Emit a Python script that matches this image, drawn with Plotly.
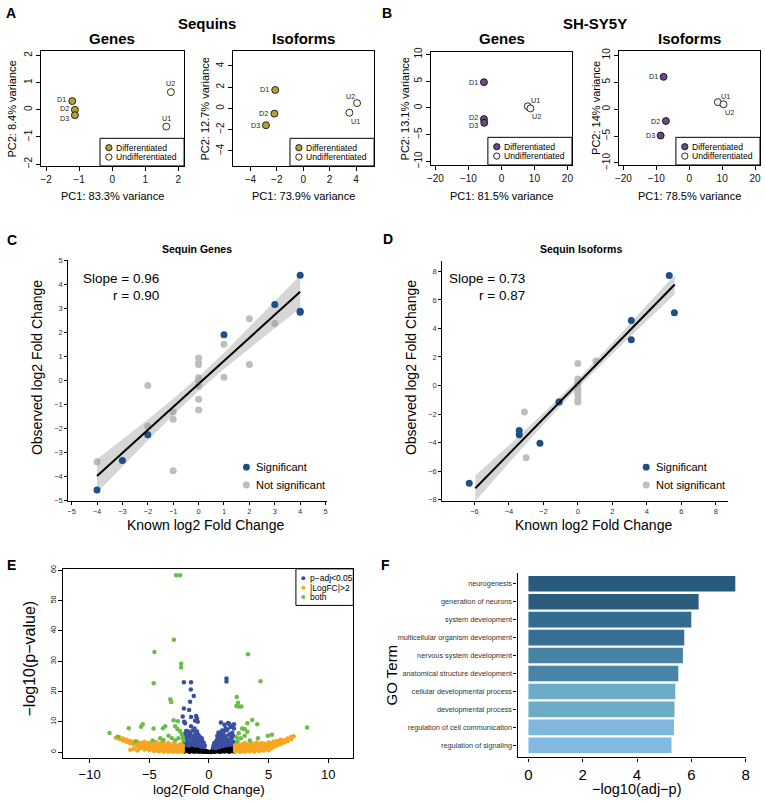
import plotly.graph_objects as go

# ======================= DATA =======================
# --- A/B: PCA ---
pca_labels = ["D1", "D2", "D3", "U1", "U2"]
pca_groups = ["Differentiated", "Differentiated", "Differentiated", "Undifferentiated", "Undifferentiated"]
legend_groups = ["Differentiated", "Undifferentiated"]

seq_genes_pc1 = [-1.21, -1.13, -1.13, 1.64, 1.78]
seq_genes_pc2 = [0.32, 0.00, -0.20, -0.62, 0.65]
seq_iso_pc1 = [-2.12, -2.18, -2.82, 3.50, 4.08]
seq_iso_pc2 = [1.74, -0.49, -1.58, -0.40, 0.50]
sh_genes_pc1 = [-5.3, -5.3, -5.2, 8.0, 8.8]
sh_genes_pc2 = [4.8, -2.1, -2.8, 0.3, -0.1]
sh_iso_pc1 = [-7.8, -7.1, -8.7, 8.7, 10.4]
sh_iso_pc2 = [6.0, -2.2, -4.9, 1.3, 0.9]

ticks_seq_genes_x = [-2, -1, 0, 1, 2]
ticks_seq_genes_y = [-2, -1, 0, 1, 2]
ticks_seq_iso_x = [-4, -2, 0, 2, 4]
ticks_seq_iso_y = [-4, -2, 0, 2, 4]
ticks_sh_x = [-20, -10, 0, 10, 20]
ticks_sh_y = [-10, -5, 0, 5, 10]

pc_titles_seq_genes = ["PC1: 83.3% variance", "PC2: 8.4% variance"]
pc_titles_seq_iso = ["PC1: 73.9% variance", "PC2: 12.7% variance"]
pc_titles_sh_genes = ["PC1: 81.5% variance", "PC2: 13.1% variance"]
pc_titles_sh_iso = ["PC1: 78.5% variance", "PC2: 14% variance"]

# --- C: Sequin genes ---
genes_known_sig = [4, 4, 4, 3, 1, -2, -3, -4]
genes_obs_sig = [4.40, 2.85, 2.90, 3.18, 1.92, -2.25, -3.32, -4.55]
genes_known_ns = [3, 2, 2, 1, 1, 0, 0, 0, 0, 0, 0, 0, 0, -1, -1, -1, -2, -2, -4]
genes_obs_ns = [2.38, 2.58, 0.68, 1.52, 0.15, 0.95, 0.75, 0.68, 0.12, 0.02, -0.22, -0.77, -1.22,
                -1.30, -1.60, -3.75, -0.20, -1.90, -3.38]
genes_fit_x = [-4, 4]
genes_fit_y = [-3.97, 3.71]
genes_band_x = [-4, -3, -2, -1, 0, 1, 2, 3, 4]
genes_band_lo = [-4.67, -3.57, -2.49, -1.43, -0.43, 0.49, 1.35, 2.19, 3.01]
genes_band_hi = [-3.27, -2.45, -1.61, -0.75, 0.17, 1.17, 2.23, 3.31, 4.41]
genes_slope, genes_r = 0.96, 0.90
ticks_c_x = [-5, -4, -3, -2, -1, 0, 1, 2, 3, 4, 5]
ticks_c_y = [-5, -4, -3, -2, -1, 0, 1, 2, 3, 4, 5]

# --- D: Sequin isoforms ---
iso_known_sig = [5.3, 5.6, 3.1, 3.1, -1.1, -2.2, -3.4, -3.4, -6.3]
iso_obs_sig = [7.7, 5.1, 4.55, 3.2, -1.15, -4.05, -3.15, -3.45, -6.85]
iso_known_ns = [1.05, 0, 0, 0, 0, 0, 0, 0, 0, 0, -3.1, -3.0, -1.05]
iso_obs_ns = [1.72, 1.55, 0.45, 0.30, 0.10, -0.25, -0.45, -0.65, -1.0, -1.15, -1.85, -5.05, -1.12]
iso_fit_x = [-5.95, 5.62]
iso_fit_y = [-7.20, 7.08]
iso_band_x = [-5.95, -4, -2, 0, 2, 4, 5.62]
iso_band_lo = [-8.10, -5.42, -2.73, -0.16, 2.23, 4.53, 6.40]
iso_band_hi = [-6.30, -4.18, -1.93, 0.44, 2.99, 5.63, 7.76]
iso_slope, iso_r = 0.73, 0.87
ticks_d_x = [-6, -4, -2, 0, 2, 4, 6, 8]
ticks_d_y = [-8, -6, -4, -2, 0, 2, 4, 6, 8]

# --- E: volcano ---
black_cols = [-2.05, -1.85, -1.65, -1.45, -1.25, -1.05, -0.85, -0.65, -0.45, -0.25, -0.05,
              0.10, 0.30, 0.50, 0.70, 0.90, 1.10, 1.30, 1.50, 1.70, 1.90, 2.10,
              -1.95, -1.75, -1.55, -1.35, -1.15, -0.95, -0.75, -0.55, -0.35, -0.15,
              0.20, 0.40, 0.60, 0.80, 1.00, 1.20, 1.40, 1.60, 1.80, 2.00]
black_rows = [[0.2, 0.9, 1.6, 2.2], [0.5, 1.2, 1.9], [0.1, 0.8, 1.5, 2.1], [0.4, 1.1, 1.7],
              [0.1, 0.7, 1.3], [0.3, 0.9, 1.4], [0.1, 0.6, 1.1], [0.3, 0.8], [0.1, 0.5], [0.2, 0.4], [0.1],
              [0.05], [0.2, 0.5], [0.1, 0.6], [0.3, 0.9], [0.1, 0.6, 1.2], [0.4, 1.0, 1.5], [0.2, 0.8, 1.4],
              [0.5, 1.1, 1.8], [0.1, 0.8, 1.5, 2.1], [0.4, 1.1, 1.8], [0.2, 0.9, 1.6, 2.3],
              [0.6, 1.9], [1.0, 1.7], [0.3, 1.2], [0.9], [0.5, 1.0], [1.1], [0.4, 0.9], [0.2, 0.6], [0.3], [0.1],
              [0.1], [0.3], [0.4, 0.8], [0.7], [0.2, 1.3], [0.6, 1.6], [1.1], [0.3, 1.9], [1.2, 2.1], [0.7, 2.0]]

blue_x = [-2.05, -1.95, -1.9, -1.85, -1.8, -1.75, -1.7, -1.65, -1.6, -1.55, -1.5, -1.45, -1.4, -1.35,
          -1.3, -1.25, -1.2, -1.15, -1.1, -1.05, -1.0, -0.95, -0.9, -0.85, -0.8, -0.75, -0.7, -0.65,
          -0.6, -0.55, -0.5, -0.45, -0.4, -0.35, -2.0, -1.9, -2.1, -2.08, -1.72, -1.2, -1.0, -1.5,
          -2.0, -0.8, -0.6, -1.95, -1.6, -1.3, -1.0, -0.7,
          0.35, 0.4, 0.45, 0.5, 0.55, 0.6, 0.65, 0.7, 0.75, 0.8, 0.85, 0.9, 0.95, 1.0, 1.05, 1.1,
          1.15, 1.2, 1.25, 1.3, 1.35, 1.4, 1.45, 1.5, 1.55, 1.6, 1.65, 1.7, 1.75, 1.8, 1.85, 1.9,
          1.95, 2.0, 2.05, 2.1, 2.1, 1.8, 1.5, 1.2, 0.9, 0.6, 1.7, 2.0, 1.4, 1.1, 0.8, 1.9, 1.3, 0.7,
          -2.1, -1.5, -1.52, -1.27, -1.58, -2.1, -1.66, -2.2, -2.08, -1.5, -1.08, -1.0, -0.94, -1.16,
          1.47, 1.47, 1.0, 1.6, 2.1]
blue_y = [2.2, 3.1, 4.4, 2.6, 5.3, 3.6, 2.1, 4.8, 6.4, 3.0, 5.6, 2.4, 4.1, 7.1,
          3.4, 5.0, 2.2, 6.0, 3.9, 2.6, 4.6, 3.1, 5.7, 2.3, 3.6, 4.3, 2.0, 2.9,
          3.8, 1.8, 2.5, 3.2, 1.6, 2.2, 6.1, 7.0, 5.0, 3.4, 6.8, 7.8, 6.8, 8.5,
          9.5, 5.2, 4.6, 2.9, 2.8, 2.7, 2.2, 1.9,
          1.5, 2.3, 3.0, 1.8, 2.7, 3.6, 2.1, 4.3, 2.9, 5.1, 3.5, 2.2, 4.0, 6.0, 3.1, 4.8,
          2.5, 5.6, 3.7, 6.8, 2.8, 4.4, 5.2, 3.3, 7.4, 2.4, 4.0, 5.9, 3.0, 8.3, 4.7, 2.6,
          6.4, 3.6, 5.3, 2.8, 7.8, 2.5, 2.3, 2.0, 1.7, 1.3, 9.3, 8.8, 7.9, 7.1, 6.5, 4.9, 9.0, 5.4,
          23.0, 23.0, 20.6, 18.5, 16.6, 14.4, 13.9, 11.7, 10.0, 11.6, 11.9, 11.1, 10.0, 10.3,
          24.3, 23.3, 9.8, 9.6, 9.2]

orange_cols = [-2.2, -2.4, -2.6, -2.8, -3.0, -3.2, -3.4, -3.6, -3.8, -4.0, -4.2, -4.4, -4.6, -4.8,
               -5.0, -5.2, -5.4, -5.6, -5.8, -6.0, -6.3, -6.6, -6.9, -7.2, -7.5, -7.8,
               2.2, 2.4, 2.6, 2.8, 3.0, 3.2, 3.4, 3.6, 3.8, 4.0, 4.2, 4.4, 4.6, 4.8,
               5.0, 5.2, 5.4, 5.7, 6.0, 6.3, 6.6, 6.9, 7.1]
orange_rows = [[0.1, 0.8, 1.5, 2.2], [0.4, 1.1, 1.9, 2.6], [0.1, 0.7, 1.4, 2.0], [0.3, 1.0, 1.7, 2.4],
               [0.1, 0.6, 1.3, 2.0, 2.7], [0.4, 1.0, 1.6, 2.2], [0.2, 0.8, 1.5, 2.3, 3.0], [0.5, 1.1, 1.8, 2.5],
               [0.2, 0.9, 1.6, 2.8], [0.6, 1.3, 2.0, 3.1], [0.3, 1.0, 1.7, 2.4], [0.8, 1.5, 2.2, 3.3],
               [0.4, 1.2, 1.9, 2.7], [1.0, 1.7, 2.5], [0.6, 1.4, 2.2, 3.0], [1.2, 1.9, 2.8],
               [0.9, 1.7, 2.5, 3.3], [1.5, 2.3, 3.1], [1.2, 2.1, 2.9], [0.5, 1.9, 2.7, 3.5],
               [1.1, 2.5, 3.3], [0.8, 2.9, 3.7], [3.4, 4.1], [3.8, 4.5], [4.3, 4.9], [4.7],
               [0.2, 0.9, 1.6, 2.3], [0.5, 1.2, 1.9, 2.7], [0.1, 0.8, 1.5, 2.2], [0.4, 1.1, 1.8, 2.6],
               [0.2, 0.9, 1.6, 2.3, 3.0], [0.5, 1.2, 1.9, 2.6], [0.3, 1.0, 1.7, 2.4], [0.6, 1.3, 2.0, 2.9],
               [0.2, 1.0, 1.7, 2.5], [0.7, 1.4, 2.2, 3.2], [0.4, 1.1, 1.9, 2.6], [0.9, 1.6, 2.4, 3.0],
               [0.5, 1.3, 2.1, 2.8], [1.0, 1.8, 2.6], [0.6, 1.5, 2.3, 3.2], [1.2, 2.0, 2.8],
               [1.7, 2.6, 3.4], [2.2, 3.0, 3.7], [2.6, 3.4, 4.1], [3.2, 3.9], [3.7, 4.5], [4.3, 5.0], [5.2]]

green_x = [-2.75, -2.42, -2.94, -4.57, -2.33, -2.33, -4.63, -3.24, -3.16, -2.96, -2.6, -5.55,
           -8.33, -7.64, -6.72, -5.69, -6.17, -4.64, -3.86, -3.67, -2.83, -2.64, -2.42, -2.28, -3.39,
           -4.08, -3.11, -2.56, -4.72, -3.81, -2.83, -2.19, -2.14,
           3.27, 4.32, 2.33, 2.44, 2.30, 2.49, 2.72, 3.63, 3.22, 4.05, 8.22, 2.78, 3.0, 3.22, 2.5,
           4.94, 5.28, 4.11, 2.67, 3.42, 2.31, 2.39, 3.0]
green_y = [58.3, 58.3, 37.0, 33.0, 29.1, 27.9, 22.7, 17.4, 16.5, 10.5, 10.2, 9.2,
           6.3, 5.1, 7.9, 8.4, 3.5, 7.8, 7.9, 8.5, 8.5, 7.6, 7.0, 6.0, 5.4,
           4.6, 4.6, 4.6, 3.8, 4.0, 3.8, 4.9, 3.8,
           32.3, 23.4, 18.2, 16.3, 15.2, 15.0, 15.0, 10.6, 9.5, 9.2, 8.1, 7.8, 7.6, 6.7, 6.2,
           5.4, 5.7, 4.6, 4.6, 3.8, 4.9, 3.6, 5.4]
volcano_legend = ["p\u2212adj&lt;0.05", "|LogFC|&gt;2", "both"]
ticks_e_x = [-10, -5, 0, 5, 10]
ticks_e_y = [0, 10, 20, 30, 40, 50, 60]

# --- F: GO terms (bottom to top) ---
go_terms = ["regulation of signaling", "regulation of cell communication", "developmental process",
            "cellular developmental process", "anatomical structure development",
            "nervous system development", "multicellular organism development",
            "system development", "generation of neurons", "neurogenesis"]
go_values = [5.27, 5.36, 5.38, 5.41, 5.52, 5.69, 5.74, 6.00, 6.27, 7.62]
ticks_f_x = [0, 2, 4, 6, 8]

# ======================= STYLE / LAYOUT =======================
W, H = 765, 802
FONT = "Liberation Sans, Arial, Helvetica, sans-serif"
PCA_COL_A = {"Differentiated": "#B59F3B", "Undifferentiated": "#FEFCE0"}
PCA_COL_B = {"Differentiated": "#6B4D7F", "Undifferentiated": "#F3F0F6"}
SIG_BLUE = "#1D4F8B"
NS_GRAY = "#BEBEBE"
V_BLUE, V_ORANGE, V_GREEN = "#3A4FA0", "#F6A623", "#6BBD45"
GO_COLORS = ["#82B9E0", "#7FB7DD", "#6BADC7", "#6BADC7", "#4784A5", "#4683A4",
             "#356F94", "#336C91", "#2A5C80", "#285A7E"]

fig = go.Figure()
layout = dict(width=W, height=H, autosize=False, margin=dict(l=0, r=0, t=0, b=0),
              paper_bgcolor="white", plot_bgcolor="rgba(0,0,0,0)", showlegend=False,
              font=dict(family=FONT, color="black"))
annotations, shapes = [], []


def fx(px):
    return px / W


def fy(py):
    return 1 - py / H


def names(n):
    s = "" if n == 1 else str(n)
    return "xaxis" + s, "yaxis" + s, "x" + s, "y" + s


def ann(text, px, py, size, bold=False, xa="center", ya="middle", angle=0, color="black"):
    annotations.append(dict(text=("<b>%s</b>" % text) if bold else text, x=fx(px), y=fy(py),
                            xref="paper", yref="paper", xanchor=xa, yanchor=ya, showarrow=False,
                            textangle=angle, font=dict(size=size, color=color, family=FONT)))


def circle(cx, cy, r, fill, line_w=0.0, line_c="black"):
    shapes.append(dict(type="circle", xref="paper", yref="paper", x0=fx(cx - r), x1=fx(cx + r),
                       y0=fy(cy + r), y1=fy(cy - r), fillcolor=fill,
                       line=dict(width=line_w, color=line_c)))


def rect(x0, y0, x1, y1, w=1):
    shapes.append(dict(type="rect", xref="paper", yref="paper", x0=fx(x0), x1=fx(x1),
                       y0=fy(y1), y1=fy(y0), line=dict(width=w, color="black"), fillcolor="rgba(0,0,0,0)"))


# ---------------- PCA panels ----------------
LABEL_POS = {
    "L": dict(xanchor="right", yanchor="middle", xshift=-5, yshift=0),
    "Lu1": dict(xanchor="right", yanchor="middle", xshift=-5, yshift=1.5),
    "Lu": dict(xanchor="right", yanchor="middle", xshift=-5, yshift=2),
    "Ld": dict(xanchor="right", yanchor="middle", xshift=-5, yshift=-3),
    "T": dict(xanchor="center", yanchor="bottom", xshift=0, yshift=3),
    "TL": dict(xanchor="right", yanchor="bottom", xshift=-1, yshift=1),
    "BR": dict(xanchor="left", yanchor="top", xshift=1, yshift=-3),
    "TR": dict(xanchor="left", yanchor="bottom", xshift=2, yshift=0),
}
pca_panels = [
    dict(n=1, x=seq_genes_pc1, y=seq_genes_pc2, box=(37, 182, 47, 163), xr=[-2.17, 2.18], yr=[-2.07, 2.15],
         xt=ticks_seq_genes_x, yt=ticks_seq_genes_y, col=PCA_COL_A, lab=["Lu1", "Lu1", "Ld", "T", "T"],
         titles=pc_titles_seq_genes, ytx=8, name="Genes"),
    dict(n=2, x=seq_iso_pc1, y=seq_iso_pc2, box=(231, 374, 47, 163), xr=[-5.35, 5.37], yr=[-5.42, 5.37],
         xt=ticks_seq_iso_x, yt=ticks_seq_iso_y, col=PCA_COL_A, lab=["L", "L", "L", "BR", "TL"],
         titles=pc_titles_seq_iso, ytx=203, name="Isoforms"),
    dict(n=3, x=sh_genes_pc1, y=sh_genes_pc2, box=(432, 574, 48, 162), xr=[-21.2, 21.4], yr=[-10.68, 10.37],
         xt=ticks_sh_x, yt=ticks_sh_y, col=PCA_COL_B, lab=["L", "Lu", "Ld", "TR", "BR"],
         titles=pc_titles_sh_genes, ytx=405, name="Genes"),
    dict(n=4, x=sh_iso_pc1, y=sh_iso_pc2, box=(621, 764, 47, 162), xr=[-21.5, 21.5], yr=[-10.37, 10.73],
         xt=ticks_sh_x, yt=ticks_sh_y, col=PCA_COL_B, lab=["L", "L", "L", "TR", "BR"],
         titles=pc_titles_sh_iso, ytx=598, name="Isoforms"),
]
for p in pca_panels:
    xa, ya, xr_, yr_ = names(p["n"])
    x0, x1, y0, y1 = p["box"]
    base = dict(showline=True, mirror=True, linecolor="black", linewidth=1, ticks="outside", ticklen=4,
                tickwidth=1, tickcolor="black", tickfont=dict(size=10, family=FONT, color="#111"),
                showgrid=False, zeroline=False, tickmode="array")
    layout[xa] = dict(base, domain=[fx(x0), fx(x1)], range=p["xr"], tickvals=p["xt"], anchor=yr_)
    layout[ya] = dict(base, domain=[fy(y1), fy(y0)], range=p["yr"], tickvals=p["yt"], anchor=xr_,
                      tickangle=-90)
    fig.add_trace(go.Scatter(x=p["x"], y=p["y"], mode="markers", xaxis=xr_, yaxis=yr_,
                             marker=dict(size=7, color=[p["col"][g] for g in pca_groups],
                                         line=dict(width=0.8, color="black"))))
    for lbl, px_, py_, pos in zip(pca_labels, p["x"], p["y"], p["lab"]):
        annotations.append(dict(text=lbl, x=px_, y=py_, xref=xr_, yref=yr_, showarrow=False,
                                borderpad=0, font=dict(size=7.2, color="#1a1a1a", family=FONT),
                                **LABEL_POS[pos]))
    # legend box
    lx0, lx1, ly0, ly1 = x1 - 85, x1, y1 - 28, y1
    rect(lx0, ly0, lx1, ly1)
    for k, g in enumerate(legend_groups):
        cy = ly0 + 9.5 + 9.5 * k
        circle(lx0 + 9, cy, 3.2, p["col"][g], 0.8)
        ann(g, lx0 + 14.5, cy, 8.6, xa="left")
    # titles
    ann(p["name"], (x0 + x1) / 2, 34, 15, bold=True)
    ann(p["titles"][0], (x0 + x1) / 2, 193, 11)
    ann(p["titles"][1], p["ytx"], (y0 + y1) / 2, 11, angle=-90)

ann("Sequins", 205, 19, 15, bold=True)
ann("SH-SY5Y", 597, 19, 15, bold=True)
for letter, px_, py_ in [("A", 7, 8), ("B", 387, 8), ("C", 8, 238), ("D", 388, 237), ("E", 8, 567), ("F", 386, 567)]:
    ann(letter, px_, py_, 14, bold=True)

# ---------------- C & D regression panels ----------------
reg_panels = [
    dict(n=5, dom=(65, 326, 258, 502), xr=[-5.13, 5.04], yr=[-5.0, 5.04], xt=ticks_c_x, yt=ticks_c_y,
         ks=genes_known_sig, os=genes_obs_sig, kn=genes_known_ns, on=genes_obs_ns,
         fx_=genes_fit_x, fy_=genes_fit_y, bx=genes_band_x, blo=genes_band_lo, bhi=genes_band_hi,
         slope=genes_slope, r=genes_r, title="Sequin Genes", tcx=195, stx=159, legx=245),
    dict(n=6, dom=(443, 732, 259, 502), xr=[-7.86, 8.73], yr=[-8.07, 8.74], xt=ticks_d_x, yt=ticks_d_y,
         ks=iso_known_sig, os=iso_obs_sig, kn=iso_known_ns, on=iso_obs_ns,
         fx_=iso_fit_x, fy_=iso_fit_y, bx=iso_band_x, blo=iso_band_lo, bhi=iso_band_hi,
         slope=iso_slope, r=iso_r, title="Sequin Isoforms", tcx=583, stx=529, legx=649),
]
for p in reg_panels:
    xa, ya, xr_, yr_ = names(p["n"])
    x0, x1, y0, y1 = p["dom"]
    base = dict(showline=True, mirror=False, linecolor="black", linewidth=1.2, ticks="outside", ticklen=3,
                tickwidth=1, tickcolor="black", tickfont=dict(size=7.5, color="#333", family=FONT),
                showgrid=False, zeroline=False, tickmode="array")
    layout[xa] = dict(base, domain=[fx(x0), fx(x1)], range=p["xr"], tickvals=p["xt"], anchor=yr_)
    layout[ya] = dict(base, domain=[fy(y1), fy(y0)], range=p["yr"], tickvals=p["yt"], anchor=xr_)
    fig.add_trace(go.Scatter(x=p["kn"], y=p["on"], mode="markers", xaxis=xr_, yaxis=yr_,
                             marker=dict(size=7, color=NS_GRAY)))
    fig.add_trace(go.Scatter(x=p["bx"] + p["bx"][::-1], y=p["bhi"] + p["blo"][::-1], mode="lines",
                             fill="toself", fillcolor="rgba(153,153,153,0.4)", line=dict(width=0),
                             xaxis=xr_, yaxis=yr_, hoverinfo="skip"))
    fig.add_trace(go.Scatter(x=p["ks"], y=p["os"], mode="markers", xaxis=xr_, yaxis=yr_,
                             marker=dict(size=7, color=SIG_BLUE)))
    fig.add_trace(go.Scatter(x=p["fx_"], y=p["fy_"], mode="lines", xaxis=xr_, yaxis=yr_,
                             line=dict(color="black", width=2)))
    ann(p["title"], p["tcx"], 247, 10.5, bold=True)
    ann("Slope = %.2f" % p["slope"], p["stx"], 277, 13.5, xa="right")
    ann("r = %.2f" % p["r"], p["stx"], 294, 13.5, xa="right")
    ann("Known log2 Fold Change", (x0 + x1) / 2 + 8, 527, 14)
    ann("Observed log2 Fold Change", x0 - 31, 367, 14, angle=-90)
    circle(p["legx"], 468, 3.5, SIG_BLUE)
    ann("Significant", p["legx"] + 8, 468, 11, xa="left")
    circle(p["legx"], 486, 3.5, NS_GRAY)
    ann("Not significant", p["legx"] + 8, 486, 11, xa="left")

# ---------------- E volcano ----------------
xa, ya, xr_, yr_ = names(7)
base = dict(showline=True, mirror=True, linecolor="black", linewidth=1, ticks="outside", ticklen=4,
            tickwidth=1, tickcolor="black", showgrid=False, zeroline=False, tickmode="array")
layout[xa] = dict(base, domain=[fx(60), fx(353)], range=[-12.2, 12.1], tickvals=ticks_e_x,
                  tickfont=dict(size=13, family=FONT), anchor=yr_)
layout[ya] = dict(base, domain=[fy(763), fy(571)], range=[-2.1, 60.4], tickvals=ticks_e_y,
                  tickfont=dict(size=7, family=FONT), tickangle=-90, anchor=xr_)
black_x = [c for c, row in zip(black_cols, black_rows) for _ in row]
black_y = [v for row in black_rows for v in row]
orange_x = [c for c, row in zip(orange_cols, orange_rows) for _ in row]
orange_y = [v for row in orange_rows for v in row]
for xs, ys, col in [(black_x, black_y, "black"), (blue_x, blue_y, V_BLUE),
                    (orange_x, orange_y, V_ORANGE), (green_x, green_y, V_GREEN)]:
    fig.add_trace(go.Scatter(x=xs, y=ys, mode="markers", xaxis=xr_, yaxis=yr_,
                             marker=dict(size=4.5, color=col, line=dict(width=0))))
rect(295, 571, 353, 608)
for k, (lbl, col) in enumerate(zip(volcano_legend, [V_BLUE, V_ORANGE, V_GREEN])):
    cy = 580.5 + 9.5 * k
    circle(302.5, cy, 2.0, col)
    ann(lbl, 307, cy, 8.5, xa="left")
ann("log2(Fold Change)", 207, 794.5, 13.5)
ann("\u2212log10(p\u2212value)", 26, 662, 16, angle=-90)

# ---------------- F GO bars ----------------
xa, ya, xr_, yr_ = names(8)
base = dict(showline=True, mirror=False, linecolor="black", linewidth=1.2, ticks="outside", ticklen=3,
            tickwidth=1, tickcolor="black", showgrid=False, zeroline=False)
layout[xa] = dict(base, domain=[fx(519), fx(750)], range=[-0.4, 8.02], tickmode="array", tickvals=ticks_f_x,
                  tickfont=dict(size=15, family=FONT), anchor=yr_)
layout[ya] = dict(base, domain=[fy(762), fy(575)], range=[-0.68, 9.61], type="category",
                  categoryorder="array", categoryarray=go_terms,
                  tickfont=dict(size=7.3, color="#333", family=FONT), anchor=xr_)
fig.add_trace(go.Bar(x=go_values, y=go_terms, orientation="h", xaxis=xr_, yaxis=yr_, width=0.87,
                     marker=dict(color=GO_COLORS, line=dict(width=0))))
ann("\u2212log10(adj\u2212p)", 640, 794, 14.5)
ann("GO Term", 392, 678, 15, angle=-90)

layout["annotations"] = annotations
layout["shapes"] = shapes
fig.update_layout(**layout)
fig.write_html("out.html", config={"displayModeBar": False},
               post_script="document.body.style.margin='0px';document.body.style.overflow='hidden';")
